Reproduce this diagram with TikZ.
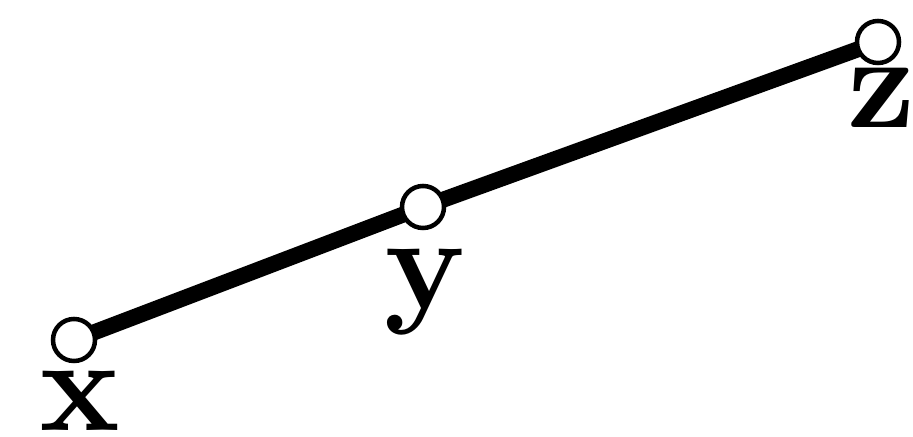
\documentclass[tikz,border=0pt]{standalone}
\usepackage{tikz}
\usetikzlibrary{positioning}

\tikzset{
  pt/.style={circle, draw, fill=white, line width=0.045cm, minimum size=0.42cm, inner sep=0pt},
  lbl/.style={anchor=base, font=\bfseries, inner sep=0pt, scale=3.8, transform shape},
  seg/.style={line width=0.16cm}
}

\begin{document}
\begin{tikzpicture}[x=0.01cm,y=0.01cm]
\useasboundingbox (0,0) rectangle (913,437);

\coordinate (x) at (74,97);
\coordinate (y) at (423,230);
\coordinate (z) at (878,395);

\draw[seg] (x) -- (y) -- (z);

\node[pt] (px) at (x) {};
\node[pt] (py) at (y) {};
\node[pt] (pz) at (z) {};

\node[lbl] (xl) at (80,6) {x};
\node[lbl] (yl) at (425,128) {y};
\node[lbl] (zl) at (882,309) {z};

\end{tikzpicture}
\end{document}
